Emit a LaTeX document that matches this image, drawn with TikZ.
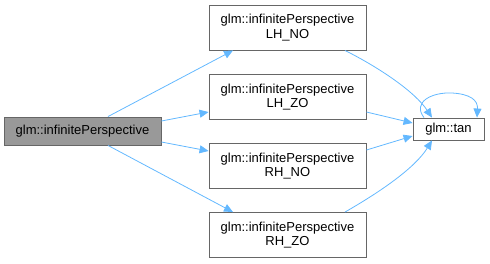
\documentclass[tikz,border=0pt]{standalone}
\usepackage{fontspec}
\setmainfont{Liberation Sans}
\usetikzlibrary{arrows.meta}
\definecolor{edgeblue}{HTML}{63B8FF}
\definecolor{boxline}{HTML}{666666}
\definecolor{mainfill}{HTML}{999999}
\begin{document}
\begin{tikzpicture}[x=1pt,y=-1pt,
  fn/.style={draw=boxline,fill=white,line width=0.9pt,font=\fontsize{13}{14.5}\selectfont,align=center,inner sep=0pt},
  member/.style={fn,minimum width=157pt,minimum height=45pt},
  call/.style={draw=edgeblue,line width=0.8pt,-{Triangle[length=9pt,width=8pt]}}]
\useasboundingbox (0,0) rectangle (490,263);
\node[fn,fill=mainfill,minimum width=157pt,minimum height=28pt] (main) at (82.5,131) {glm::infinitePerspective};
\node[member] (lhno) at (287.5,27.5) {glm::infinitePerspective\\LH\_NO};
\node[member] (lhzo) at (287.5,97) {glm::infinitePerspective\\LH\_ZO};
\node[member] (rhno) at (287.5,166) {glm::infinitePerspective\\RH\_NO};
\node[member] (rhzo) at (287.5,235) {glm::infinitePerspective\\RH\_ZO};
\node[fn,minimum width=71pt,minimum height=22pt] (tan) at (448.5,129) {glm::tan};
% calls from the main function
\draw[call] (main.north -| 108,0) -- (lhno.south -| 233,0);
\draw[call] (main.east |- 0,121) -- (lhzo.west |- 0,112);
\draw[call] (main.east |- 0,142) -- (rhno.west |- 0,151);
\draw[call] (main.south -| 108,0) -- (rhzo.north -| 233,0);
% calls into glm::tan
\draw[call] (lhno.south -| 345,0) .. controls (380,68) and (415,92) .. (tan.north -| 432,0);
\draw[call] (lhzo.east |- 0,112) -- (tan.west |- 0,123);
\draw[call] (rhno.east |- 0,150) -- (tan.west |- 0,136);
\draw[call] (rhzo.north -| 345,0) .. controls (380,192) and (415,168) .. (tan.south -| 432,0);
% recursive call
\draw[call] (tan.north -| 424,0) .. controls (412,102) and (432,92) .. (452,93) .. controls (470,94) and (478,100) .. (tan.north -| 477,0);
\end{tikzpicture}
\end{document}
